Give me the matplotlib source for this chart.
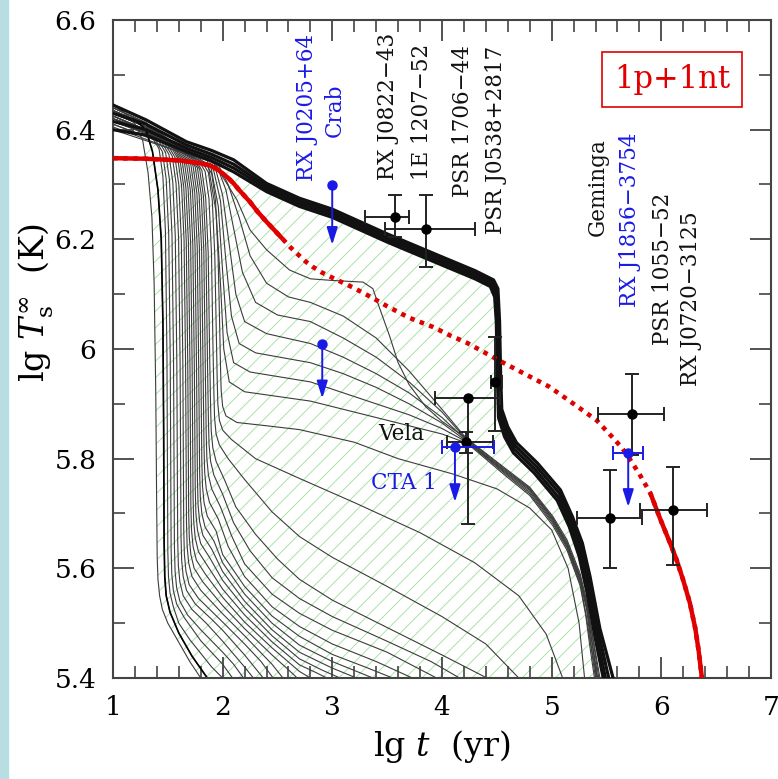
import numpy as np
import matplotlib
matplotlib.use("Agg")
import matplotlib.pyplot as plt
from matplotlib.patches import Rectangle
from matplotlib.ticker import MultipleLocator

plt.rcParams['font.family'] = ['DejaVu Serif']
plt.rcParams['mathtext.fontset'] = 'dejavuserif'
plt.rcParams['hatch.linewidth'] = 0.6

# ---------------- data ----------------
# upper (slow-cooling) bundle of curves: (lg t, lg Ts)
upper_bundle = [
    [(1.0,6.445),(1.3,6.418),(1.67,6.378),(1.9,6.362),(2.1,6.345),(2.4,6.302),(2.7,6.275),(3.0,6.255),(3.5,6.21),(4.0,6.168),(4.3,6.143),(4.47,6.126),(4.51,6.11),(4.525,6.05),(4.535,5.95),(4.545,5.89),(4.60,5.858),(4.68,5.829),(4.87,5.792),(5.08,5.743),(5.19,5.694),(5.28,5.646),(5.35,5.585),(5.44,5.49),(5.56,5.40)],
    [(1.0,6.43),(1.3,6.41),(1.67,6.372),(1.9,6.355),(2.1,6.337),(2.4,6.297),(2.7,6.27),(3.0,6.25),(3.5,6.205),(4.0,6.163),(4.3,6.138),(4.46,6.122),(4.50,6.105),(4.515,6.05),(4.525,5.95),(4.535,5.885),(4.59,5.852),(4.67,5.823),(4.86,5.786),(5.07,5.737),(5.18,5.688),(5.27,5.638),(5.34,5.576),(5.42,5.49),(5.52,5.40)],
    [(1.0,6.415),(1.3,6.40),(1.67,6.366),(1.9,6.349),(2.1,6.33),(2.4,6.292),(2.7,6.265),(3.0,6.245),(3.5,6.20),(4.0,6.158),(4.3,6.133),(4.45,6.118),(4.49,6.10),(4.505,6.05),(4.515,5.95),(4.525,5.88),(4.58,5.846),(4.66,5.817),(4.85,5.78),(5.06,5.73),(5.17,5.682),(5.26,5.63),(5.33,5.567),(5.40,5.49),(5.49,5.40)],
    [(1.0,6.40),(1.3,6.39),(1.67,6.36),(1.9,6.343),(2.1,6.323),(2.4,6.287),(2.7,6.26),(3.0,6.24),(3.5,6.195),(4.0,6.153),(4.3,6.128),(4.44,6.114),(4.48,6.095),(4.495,6.05),(4.505,5.95),(4.515,5.875),(4.57,5.84),(4.65,5.811),(4.84,5.774),(5.05,5.724),(5.16,5.676),(5.25,5.622),(5.32,5.558),(5.39,5.48),(5.47,5.40)],
]

# curves that leave the bundle at lg t ~ 2 and converge near Vela
converging = [
    [(1.0,6.42),(1.6,6.375),(1.9,6.345),(2.0,6.314),(2.13,6.272),(2.25,6.217),(2.40,6.181),(2.61,6.144),(2.8,6.128),(3.0,6.125),(3.28,6.122),(3.37,6.11),(3.43,6.075),(3.52,6.025),(3.60,5.975),(3.70,5.935),(3.85,5.895),(4.0,5.868),(4.23,5.836),(4.56,5.785),(4.80,5.748),(5.01,5.695),(5.14,5.652),(5.26,5.59),(5.32,5.54),(5.38,5.47),(5.44,5.40)],
    [(1.0,6.415),(1.6,6.37),(1.96,6.336),(2.05,6.30),(2.15,6.24),(2.25,6.17),(2.4,6.12),(2.6,6.095),(2.8,6.085),(3.1,6.06),(3.4,6.02),(3.7,5.96),(4.0,5.89),(4.23,5.835),(4.56,5.783),(4.80,5.746),(5.01,5.692),(5.14,5.648),(5.26,5.585),(5.32,5.535),(5.38,5.465),(5.43,5.40)],
    [(1.0,6.41),(1.6,6.365),(1.94,6.338),(2.03,6.29),(2.1,6.22),(2.18,6.14),(2.3,6.085),(2.5,6.062),(2.8,6.05),(3.1,6.02),(3.4,5.985),(3.7,5.94),(4.0,5.885),(4.23,5.833),(4.56,5.781),(4.80,5.744),(5.01,5.69),(5.14,5.645),(5.26,5.582),(5.32,5.53),(5.37,5.465),(5.42,5.40)],
    [(1.0,6.405),(1.6,6.36),(1.92,6.34),(2.0,6.28),(2.06,6.19),(2.12,6.10),(2.2,6.05),(2.4,6.028),(2.8,6.01),(3.1,5.985),(3.4,5.955),(3.7,5.92),(4.0,5.875),(4.23,5.832),(4.56,5.779),(4.80,5.742),(5.01,5.688),(5.14,5.643),(5.26,5.58),(5.32,5.528),(5.37,5.46),(5.415,5.40)],
    [(1.0,6.40),(1.6,6.36),(1.9,6.342),(1.98,6.27),(2.03,6.16),(2.08,6.06),(2.15,6.01),(2.3,5.993),(2.8,5.975),(3.1,5.955),(3.4,5.93),(3.7,5.90),(4.0,5.865),(4.23,5.831),(4.56,5.777),(4.80,5.739),(5.01,5.685),(5.14,5.64),(5.26,5.576),(5.32,5.524),(5.36,5.46),(5.41,5.40)],
    [(1.0,6.425),(1.6,6.37),(1.88,6.345),(1.96,6.26),(2.0,6.14),(2.04,6.03),(2.1,5.975),(2.25,5.958),(2.8,5.94),(3.1,5.92),(3.4,5.90),(3.7,5.88),(4.0,5.855),(4.23,5.83),(4.56,5.775),(4.80,5.736),(5.01,5.682),(5.14,5.637),(5.26,5.572),(5.31,5.52),(5.36,5.455),(5.40,5.40)],
    [(1.0,6.41),(1.6,6.365),(1.86,6.345),(1.94,6.25),(1.98,6.12),(2.01,6.0),(2.06,5.94),(2.2,5.922),(2.8,5.905),(3.2,5.885),(3.6,5.865),(4.0,5.845),(4.23,5.828),(4.56,5.772),(4.80,5.733),(5.01,5.678),(5.14,5.633),(5.26,5.568),(5.31,5.515),(5.35,5.455),(5.39,5.40)],
]

# fast-cooling curves (early drop, nested)
fast = [
    [(1.0,6.445),(1.1,6.432),(1.2,6.41),(1.27,6.381),(1.32,6.321),(1.355,6.24),(1.375,6.12),(1.39,5.92),(1.398,5.72),(1.403,5.62),(1.41,5.58),(1.425,5.55),(1.45,5.525),(1.50,5.50),(1.60,5.465),(1.70,5.43),(1.80,5.40)],
    [(1.0,6.43),(1.2,6.418),(1.3,6.40),(1.36,6.36),(1.41,6.29),(1.44,6.20),(1.455,6.05),(1.462,5.85),(1.466,5.65),(1.472,5.585),(1.485,5.55),(1.52,5.52),(1.60,5.482),(1.72,5.44),(1.86,5.40)],
    [(1.0,6.43),(1.3,6.405),(1.36,6.385),(1.42,6.365),(1.455,6.315),(1.478,6.215),(1.492,5.985),(1.50,5.63),(1.506,5.585),(1.52,5.555),(1.55,5.53),(1.6,5.50),(1.7,5.47),(1.8,5.445),(1.9,5.42),(2.0,5.40)],
    [(1.0,6.42),(1.3,6.398),(1.39,6.38),(1.45,6.36),(1.485,6.31),(1.508,6.21),(1.522,5.98),(1.53,5.635),(1.536,5.59),(1.55,5.56),(1.58,5.535),(1.65,5.51),(1.8,5.468),(2.0,5.425),(2.09,5.40)],
    [(1.0,6.435),(1.3,6.41),(1.42,6.378),(1.48,6.358),(1.515,6.308),(1.538,6.208),(1.552,5.978),(1.56,5.64),(1.566,5.595),(1.58,5.565),(1.61,5.54),(1.68,5.515),(1.8,5.488),(2.0,5.447),(2.1,5.425),(2.19,5.40)],
    [(1.0,6.425),(1.3,6.40),(1.45,6.375),(1.51,6.355),(1.545,6.305),(1.568,6.205),(1.582,5.975),(1.59,5.65),(1.596,5.605),(1.61,5.575),(1.64,5.55),(1.72,5.525),(1.85,5.50),(2.0,5.467),(2.2,5.42),(2.28,5.40)],
    [(1.0,6.44),(1.3,6.412),(1.48,6.372),(1.54,6.352),(1.575,6.302),(1.598,6.202),(1.612,5.972),(1.62,5.66),(1.626,5.615),(1.64,5.585),(1.67,5.56),(1.75,5.535),(1.9,5.507),(2.0,5.487),(2.2,5.442),(2.37,5.40)],
    [(1.0,6.42),(1.3,6.398),(1.505,6.37),(1.565,6.35),(1.60,6.30),(1.623,6.20),(1.637,5.97),(1.645,5.67),(1.651,5.625),(1.665,5.595),(1.695,5.57),(1.78,5.545),(2.0,5.502),(2.2,5.462),(2.35,5.43),(2.46,5.40)],
    [(1.0,6.43),(1.3,6.405),(1.53,6.368),(1.59,6.348),(1.625,6.298),(1.648,6.198),(1.662,5.968),(1.67,5.685),(1.676,5.64),(1.69,5.61),(1.72,5.585),(1.8,5.56),(2.0,5.517),(2.2,5.477),(2.45,5.425),(2.55,5.40)],
    [(1.0,6.415),(1.3,6.395),(1.55,6.366),(1.61,6.346),(1.645,6.296),(1.668,6.196),(1.682,5.966),(1.69,5.70),(1.696,5.655),(1.71,5.625),(1.74,5.60),(1.82,5.575),(2.0,5.532),(2.2,5.49),(2.45,5.442),(2.6,5.415),(2.68,5.40)],
    [(1.0,6.435),(1.3,6.41),(1.57,6.364),(1.63,6.344),(1.665,6.294),(1.688,6.194),(1.702,5.964),(1.71,5.715),(1.716,5.67),(1.73,5.64),(1.76,5.615),(1.84,5.59),(2.0,5.547),(2.2,5.502),(2.45,5.455),(2.7,5.412),(2.80,5.40)],
    [(1.0,6.425),(1.3,6.40),(1.59,6.362),(1.65,6.342),(1.685,6.292),(1.708,6.192),(1.722,5.962),(1.73,5.73),(1.736,5.685),(1.75,5.655),(1.78,5.63),(1.86,5.605),(2.0,5.562),(2.2,5.515),(2.45,5.466),(2.7,5.424),(2.85,5.41),(2.95,5.40)],
    [(1.0,6.44),(1.3,6.413),(1.61,6.36),(1.67,6.34),(1.705,6.29),(1.728,6.19),(1.742,5.96),(1.75,5.745),(1.756,5.70),(1.77,5.67),(1.80,5.645),(1.88,5.62),(2.0,5.578),(2.2,5.528),(2.45,5.477),(2.7,5.435),(2.9,5.415),(3.07,5.40)],
    [(1.0,6.42),(1.3,6.40),(1.63,6.358),(1.69,6.338),(1.725,6.288),(1.748,6.188),(1.762,5.958),(1.77,5.76),(1.776,5.715),(1.79,5.685),(1.82,5.66),(1.90,5.635),(2.0,5.594),(2.2,5.54),(2.45,5.488),(2.7,5.447),(3.0,5.418),(3.22,5.40)],
    [(1.0,6.43),(1.3,6.405),(1.65,6.356),(1.71,6.336),(1.745,6.286),(1.768,6.186),(1.782,5.956),(1.79,5.775),(1.796,5.73),(1.81,5.70),(1.84,5.675),(1.92,5.65),(2.0,5.61),(2.2,5.553),(2.45,5.50),(2.7,5.46),(3.0,5.43),(3.37,5.40)],
    [(1.0,6.415),(1.3,6.395),(1.67,6.354),(1.73,6.334),(1.765,6.284),(1.788,6.184),(1.802,5.954),(1.81,5.795),(1.816,5.75),(1.83,5.72),(1.86,5.695),(1.94,5.668),(2.0,5.625),(2.2,5.567),(2.45,5.513),(2.7,5.476),(3.0,5.443),(3.3,5.42),(3.55,5.40)],
    [(1.0,6.435),(1.3,6.41),(1.69,6.352),(1.75,6.332),(1.785,6.282),(1.808,6.182),(1.822,5.952),(1.83,5.82),(1.836,5.775),(1.85,5.745),(1.88,5.72),(1.96,5.69),(2.05,5.64),(2.2,5.585),(2.45,5.53),(2.7,5.494),(3.0,5.462),(3.4,5.43),(3.73,5.40)],
    [(1.0,6.425),(1.3,6.40),(1.71,6.35),(1.77,6.33),(1.805,6.28),(1.828,6.18),(1.842,5.96),(1.85,5.845),(1.856,5.80),(1.87,5.77),(1.90,5.745),(1.98,5.712),(2.08,5.66),(2.2,5.608),(2.45,5.553),(2.7,5.518),(3.0,5.487),(3.5,5.447),(3.95,5.40)],
    [(1.0,6.44),(1.3,6.412),(1.73,6.348),(1.79,6.328),(1.825,6.278),(1.848,6.178),(1.862,5.97),(1.87,5.87),(1.876,5.825),(1.89,5.795),(1.92,5.77),(2.0,5.735),(2.1,5.683),(2.25,5.632),(2.45,5.583),(2.7,5.545),(3.0,5.512),(3.5,5.467),(3.9,5.43),(4.16,5.40)],
    [(1.0,6.42),(1.3,6.40),(1.75,6.346),(1.81,6.326),(1.845,6.276),(1.868,6.176),(1.882,5.98),(1.89,5.895),(1.896,5.85),(1.91,5.82),(1.94,5.795),(2.02,5.76),(2.12,5.712),(2.3,5.662),(2.5,5.617),(2.7,5.58),(3.0,5.542),(3.5,5.492),(4.0,5.442),(4.41,5.40)],
    [(1.0,6.43),(1.3,6.405),(1.78,6.344),(1.84,6.324),(1.875,6.274),(1.898,6.174),(1.912,6.0),(1.92,5.92),(1.926,5.875),(1.94,5.845),(1.97,5.825),(2.05,5.80),(2.2,5.762),(2.45,5.703),(2.7,5.658),(3.0,5.62),(3.5,5.567),(4.0,5.512),(4.4,5.462),(4.70,5.40)],
    [(1.0,6.415),(1.3,6.395),(1.81,6.342),(1.87,6.322),(1.905,6.272),(1.928,6.172),(1.942,6.03),(1.95,5.945),(1.956,5.90),(1.97,5.87),(2.0,5.852),(2.08,5.835),(2.3,5.80),(2.7,5.764),(3.2,5.72),(3.8,5.665),(4.3,5.61),(4.7,5.55),(4.95,5.48),(5.10,5.40)],
    [(1.0,6.435),(1.3,6.41),(1.84,6.34),(1.90,6.32),(1.935,6.27),(1.958,6.17),(1.972,6.05),(1.98,5.97),(1.986,5.925),(2.0,5.895),(2.03,5.878),(2.13,5.866),(2.4,5.86),(2.7,5.853),(3.2,5.83),(3.6,5.80),(4.1,5.772),(4.5,5.745),(4.8,5.71),(5.0,5.67),(5.15,5.60),(5.25,5.50),(5.30,5.40)],
]

# red dotted curve
red_lgt = [1.0,1.3,1.6,1.79,1.88,1.95,2.0,2.05,2.10,2.15,2.2,2.25,2.32,2.40,2.48,2.55,2.62,2.70,2.76,2.82,2.9,3.0,3.19,3.35,3.50,3.70,3.92,4.07,4.23,4.53,4.75,4.98,5.2,5.41,5.55,5.64,5.71,5.80,5.90,5.99,6.08,6.14,6.20,6.26,6.31,6.34,6.37]
red_T   = [6.348,6.347,6.344,6.339,6.335,6.328,6.32,6.312,6.302,6.29,6.279,6.268,6.25,6.232,6.215,6.20,6.185,6.17,6.159,6.15,6.14,6.13,6.112,6.095,6.078,6.057,6.04,6.025,6.011,5.978,5.955,5.931,5.90,5.87,5.84,5.82,5.80,5.772,5.737,5.69,5.646,5.615,5.578,5.537,5.49,5.45,5.40]

# observations (black: detections)
obs_names = ["RX J0822-43","1E 1207-52","PSR 1706-44","Vela","PSR J0538+2817","Geminga","PSR 1055-52","RX J0720-3125"]
obs_lgt   = [3.571, 3.853, 4.239, 4.218, 4.482, 5.728, 5.531, 6.108]
obs_T     = [6.240, 6.219, 5.910, 5.830, 5.939, 5.881, 5.691, 5.706]
obs_xlo   = [0.274, 0.37, 0.304, 0.173, 0.036, 0.31, 0.304, 0.304]
obs_xhi   = [0.127, 0.45, 0.289, 0.246, 0.064, 0.294, 0.294, 0.304]
obs_ylo   = [0.036, 0.069, 0.23, 0.02, 0.089, 0.075, 0.091, 0.10]
obs_yhi   = [0.041, 0.062, 0.0, 0.019, 0.083, 0.073, 0.088, 0.079]

# upper limits (blue)
lim_names = ["RX J1856-3754","CTA 1","RX J0205+64","Crab"]
lim_lgt   = [5.698, 4.118, 2.908, 2.999]
lim_T     = [5.810, 5.821, 6.009, 6.300]
lim_T_end = [5.712, 5.721, 5.910, 6.190]
lim_xlo   = [0.14, 0.122, 0.0, 0.0]
lim_xhi   = [0.133, 0.355, 0.0, 0.0]

# labels: text, lg t, lg T, colour, rotation
labels = [
    ("RX J0205+64", 2.768, 6.441, 'blue', 90),
    ("Crab", 3.024, 6.436, 'blue', 90),
    ("RX J0822\u221243", 3.507, 6.443, 'k', 90),
    ("1E 1207\u221252", 3.817, 6.432, 'k', 90),
    ("PSR 1706\u221244", 4.191, 6.416, 'k', 90),
    ("PSR J0538+2817", 4.491, 6.381, 'k', 90),
    ("Geminga", 5.421, 6.295, 'k', 90),
    ("RX J1856\u22123754", 5.713, 6.236, 'blue', 90),
    ("PSR 1055\u221252", 6.014, 6.146, 'k', 90),
    ("RX J0720\u22123125", 6.269, 6.091, 'k', 90),
    ("Vela", 3.625, 5.845, 'k', 0),
    ("CTA 1", 3.653, 5.756, 'blue', 0),
]
model_label = "1p+1nt"

# ---------------- figure ----------------
fig = plt.figure(figsize=(7.78, 7.79), dpi=100)
fig.patches.append(Rectangle((0, 0), 8/778, 1, transform=fig.transFigure,
                             color='#b8dde2', zorder=-10))
ax = fig.add_axes([113/778, 1-678/779, 658/778, 658/779])
ax.set_xlim(1, 7)
ax.set_ylim(5.4, 6.6)

BLUE = '#1a1ae6'
RED = '#e00000'

# hatched region between the upper envelope and the lowest curve
top = upper_bundle[0]
bot = fast[0]
px = [p[0] for p in top] + [p[0] for p in bot[::-1]]
py = [p[1] for p in top] + [p[1] for p in bot[::-1]]
ax.fill(px, py, facecolor='none', edgecolor='#9ddf9d', hatch='//', linewidth=0, zorder=1)

for c in fast + converging:
    ax.plot([p[0] for p in c], [p[1] for p in c], color='#3c3c3c', lw=0.8, zorder=2)
ax.plot([p[0] for p in fast[1]], [p[1] for p in fast[1]], color='k', lw=1.2, zorder=2)
for c in upper_bundle:
    ax.plot([p[0] for p in c], [p[1] for p in c], color='#111111', lw=2.3, zorder=3,
            solid_joinstyle='round')

# red curve: solid where dense, dotted in middle
rl = np.array(red_lgt); rT = np.array(red_T)
ax.plot(rl, rT, color=RED, lw=3.3, ls=(0, (1, 1.2)), dash_capstyle='butt', zorder=4)
m1 = rl <= 2.55
ax.plot(rl[m1], rT[m1], color=RED, lw=3.2, zorder=4, solid_capstyle='butt')
m2 = rl >= 5.90
ax.plot(rl[m2], rT[m2], color=RED, lw=3.2, zorder=4, solid_capstyle='butt')

# observations
ax.errorbar(obs_lgt, obs_T, xerr=[obs_xlo, obs_xhi], yerr=[obs_ylo, obs_yhi],
            fmt='o', color='k', ecolor='#222222', ms=6.5, elinewidth=1.4,
            capsize=5, capthick=1.4, zorder=6)
for i in range(len(lim_lgt)):
    if lim_xlo[i] > 0:
        ax.errorbar([lim_lgt[i]], [lim_T[i]], xerr=[[lim_xlo[i]], [lim_xhi[i]]],
                    fmt='o', color=BLUE, ms=6.5, elinewidth=1.4, capsize=5,
                    capthick=1.4, zorder=7)
    else:
        ax.plot([lim_lgt[i]], [lim_T[i]], 'o', color=BLUE, ms=6.5, zorder=7)
    ax.annotate('', xy=(lim_lgt[i], lim_T_end[i]), xytext=(lim_lgt[i], lim_T[i]),
                arrowprops=dict(arrowstyle='-|>,head_length=0.7,head_width=0.22',
                                color=BLUE, lw=1.4, shrinkA=0, shrinkB=0,
                                mutation_scale=15), zorder=7)

for txt, x, y, col, rot in labels:
    ax.text(x, y, txt, color=BLUE if col == 'blue' else '#111111', rotation=rot,
            ha='center', va='center', fontsize=15.5, zorder=8)

ax.text(6.096, 6.491, model_label, color=RED, fontsize=22, ha='center',
        va='center', zorder=8,
        bbox=dict(boxstyle='square,pad=0.4', facecolor='white', edgecolor=RED, lw=1.2))

# axes styling
ax.xaxis.set_minor_locator(MultipleLocator(0.2))
ax.yaxis.set_minor_locator(MultipleLocator(0.1))
ax.set_xticks([1, 2, 3, 4, 5, 6, 7])
ax.set_xticklabels(['1', '2', '3', '4', '5', '6', '7'])
ax.set_yticks([5.4, 5.6, 5.8, 6.0, 6.2, 6.4, 6.6])
ax.set_yticklabels(['5.4', '5.6', '5.8', '6', '6.2', '6.4', '6.6'])
ax.tick_params(which='both', direction='in', top=True, right=True, color='#444444')
ax.tick_params(which='major', length=15, width=1.3, labelsize=19, pad=12)
ax.tick_params(which='minor', length=8.5, width=1.2)
for s in ax.spines.values():
    s.set_linewidth(1.5)
    s.set_color('#444444')

ax.set_xlabel(r'lg $t$  (yr)', fontsize=24, labelpad=6)
ax.text(-0.118, 0.571, r'lg $T_{\rm s}^{\infty}$  (K)', transform=ax.transAxes,
        rotation=90, fontsize=24, ha='center', va='center')

fig.savefig('out.png', dpi=100)
